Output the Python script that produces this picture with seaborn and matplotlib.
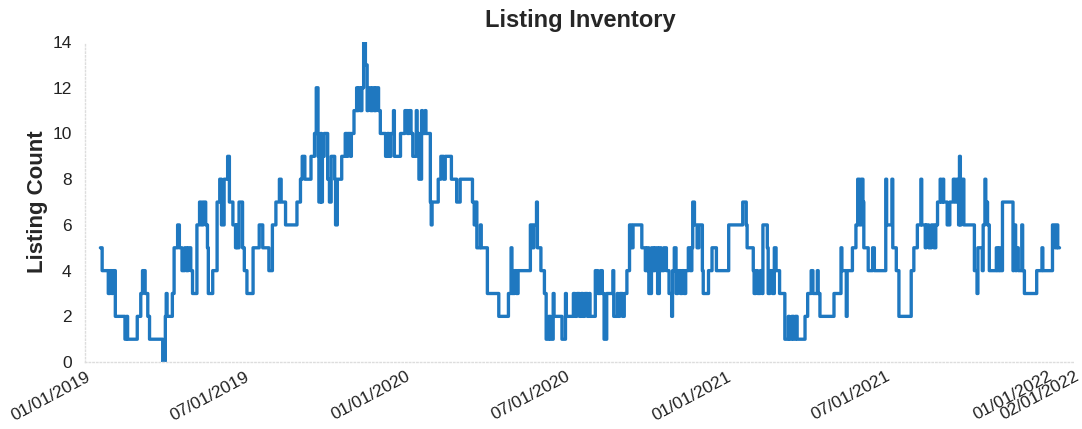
import numpy as np
import pandas as pd
import matplotlib
matplotlib.use("Agg")
import matplotlib.pyplot as plt
import matplotlib.dates as mdates
import seaborn as sns

# ---- data: daily listing count, stored as change points ----
start_date = "2019-01-18"
end_offset = 1093  # last day (offset from start_date)

change_day = [
    0, 2, 9, 11, 13, 14, 17, 28, 30, 31, 42, 46, 48, 51, 54, 56, 71, 74, 75, 76,
    82, 84, 88, 90, 93, 96, 98, 100, 103, 105, 110, 113, 115, 117, 120, 122, 123, 128, 133, 136,
    138, 141, 145, 147, 151, 154, 155, 156, 158, 162, 164, 167, 174, 181, 185, 192, 196, 200, 204, 206,
    211, 224, 228, 230, 233, 240, 244, 246, 248, 249, 251, 252, 253, 255, 259, 261, 263, 267, 268, 270,
    275, 279, 281, 282, 285, 286, 289, 292, 293, 294, 296, 298, 300, 302, 304, 305, 308, 310, 312, 314,
    317, 319,
    321, 325, 327, 329, 331, 334, 335, 342, 347, 350, 352, 354, 356, 360, 361, 363, 366, 367, 370, 371,
    376, 377, 378, 385, 388, 391, 393, 400, 406, 410, 424, 426, 428, 429, 433, 434, 441, 454, 465, 468,
    469, 472, 474, 476, 490, 492, 494, 497, 498, 502, 506, 508, 511, 513, 516, 517, 526, 530, 531, 539,
    541, 543, 546, 548, 550, 552, 555, 557, 558, 564, 567, 570, 572, 574, 577, 584, 585, 589, 590, 592,
    595, 597, 600, 603, 605, 607, 617, 621, 623, 625, 628, 630, 632, 635, 637, 639, 642, 645, 648, 651,
    652, 654, 656, 658, 661, 663, 665, 667, 670, 672, 674, 675, 677, 680, 682, 686, 687, 693, 697, 702,
    716,
    732, 736, 737, 744, 745, 747, 749, 752, 754, 755, 760, 761, 763, 766, 768, 770, 774, 780, 784, 785,
    788, 790, 792, 794, 803, 806, 810, 812, 817, 818, 820, 836, 844, 845, 850, 851, 857, 861, 863, 865,
    867, 869, 870, 875, 880, 882, 895, 896, 902, 903, 907, 910, 924, 927, 931, 935, 936, 940, 941, 944,
    947, 950, 952, 954, 957, 958, 960, 961, 965, 968, 972, 974, 976, 978, 979, 980, 981, 984, 996, 999,
    1000, 1005, 1006, 1008, 1009, 1011, 1013, 1021, 1022, 1024, 1025, 1028, 1040, 1041, 1043, 1044, 1046, 1050, 1051, 1053,
    1067, 1073, 1074, 1085, 1088, 1090, 1091,
]

change_count = [
    5, 4, 3, 4, 3, 4, 2, 1, 2, 1, 2, 3, 4, 3, 2, 1, 0, 2, 3, 2,
    3, 5, 6, 5, 4, 5, 4, 5, 4, 3, 6, 7, 6, 7, 6, 5, 3, 4, 7, 8,
    6, 8, 9, 7, 6, 5, 6, 5, 7, 5, 4, 3, 5, 6, 5, 4, 6, 7, 8, 7,
    6, 7, 8, 9, 8, 9, 10, 12, 9, 7, 10, 7, 9, 10, 8, 7, 9, 8, 6, 8,
    9, 10, 9, 10, 9, 10, 11, 12, 11, 12, 11, 12, 14, 13, 11, 12, 11, 12, 11, 12,
    11, 10,
    10, 9, 10, 9, 10, 11, 9, 10, 11, 10, 11, 10, 9, 11, 10, 8, 11, 10, 11, 10,
    7, 6, 7, 8, 9, 8, 9, 8, 7, 8, 7, 6, 7, 5, 6, 5, 3, 2, 3, 5,
    3, 4, 3, 4, 6, 5, 6, 7, 5, 4, 3, 1, 2, 1, 3, 2, 1, 3, 2, 3,
    2, 3, 2, 3, 2, 3, 2, 3, 2, 4, 3, 4, 3, 1, 3, 4, 2, 3, 2, 3,
    2, 3, 4, 6, 5, 6, 5, 4, 5, 3, 5, 4, 5, 3, 5, 4, 5, 4, 3, 2,
    4, 5, 3, 4, 3, 4, 3, 4, 5, 4, 5, 7, 6, 5, 6, 4, 3, 4, 5, 4,
    6,
    7, 6, 5, 4, 3, 4, 3, 4, 3, 6, 5, 3, 4, 3, 5, 4, 3, 1, 2, 1,
    2, 1, 2, 1, 2, 3, 4, 3, 4, 3, 2, 3, 5, 4, 2, 4, 5, 6, 8, 6,
    8, 7, 5, 4, 5, 4, 8, 6, 8, 5, 4, 2, 4, 5, 6, 8, 6, 5, 6, 5,
    6, 5, 6, 7, 8, 7, 8, 7, 6, 7, 8, 7, 8, 6, 9, 6, 8, 6, 4, 3,
    5, 4, 6, 8, 7, 6, 4, 5, 4, 5, 4, 7, 4, 6, 4, 5, 4, 6, 4, 3,
    4, 5, 4, 6, 5, 6, 5,
]

title = "Listing Inventory"
y_label = "Listing Count"
y_ticks = [0, 2, 4, 6, 8, 10, 12, 14]
x_tick_dates = ["2019-01-01", "2019-07-01", "2020-01-01", "2020-07-01",
                "2021-01-01", "2021-07-01", "2022-01-01", "2022-02-01"]
x_range = ["2019-01-01", "2022-02-01"]

# ---- expand to daily series ----
bounds = change_day + [end_offset + 1]
runs = np.diff(bounds)
daily = np.repeat(change_count, runs)
dates = pd.date_range(start_date, periods=len(daily), freq="D")
df = pd.DataFrame({"date": dates, "count": daily})

# ---- plot ----
sns.set_theme(style="white")
plt.rcParams["font.family"] = ["Liberation Sans", "DejaVu Sans"]

fig = plt.figure(figsize=(10.82, 4.29), dpi=100)
ax = fig.add_axes([0.079, 0.156, 0.914, 0.746])

sns.lineplot(data=df, x="date", y="count", ax=ax, drawstyle="steps-post",
             color="#1f78c0", linewidth=2.4)

ax.set_xlim(pd.Timestamp(x_range[0]), pd.Timestamp(x_range[1]))
ax.set_ylim(0, 14)
ax.set_yticks(y_ticks)
ax.set_xticks([pd.Timestamp(d) for d in x_tick_dates])
ax.xaxis.set_major_formatter(mdates.DateFormatter("%m/%d/%Y"))
ax.tick_params(axis="both", length=0, labelsize=12.5, colors="#222222")
ax.tick_params(axis="y", pad=10)
ax.tick_params(axis="x", pad=5)
for lab in ax.get_xticklabels():
    lab.set_rotation(28)
    lab.set_ha("right")
    lab.set_rotation_mode("anchor")

ax.set_xlabel("")
ax.set_ylabel(y_label, fontsize=16, fontweight="bold", labelpad=3)
ax.set_title(title, fontsize=17, fontweight="bold", pad=11)

for side in ["top", "right"]:
    ax.spines[side].set_visible(False)
for side in ["left", "bottom"]:
    ax.spines[side].set_color("#dddddd")
    ax.spines[side].set_linestyle(":")
    ax.spines[side].set_linewidth(1.0)

fig.savefig("out.png", dpi=100)
